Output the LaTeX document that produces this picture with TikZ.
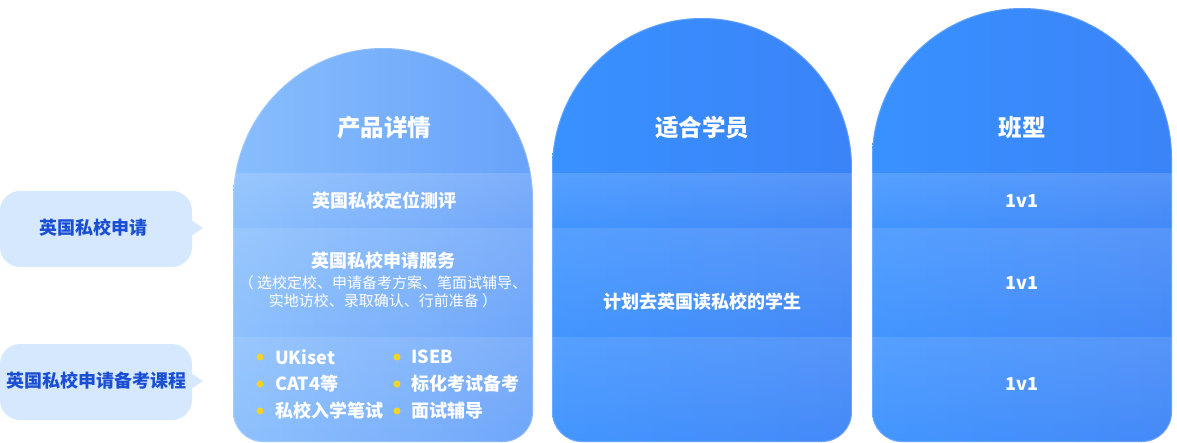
\documentclass[tikz,border=0pt]{standalone}
\usepackage{fontspec}
\setmainfont{Noto Sans CJK SC}
\usetikzlibrary{fadings}
\definecolor{lblbg}{HTML}{D5E8FD}
\definecolor{lbltext}{HTML}{1B4FD3}
\definecolor{dotyellow}{HTML}{F5D32B}
\definecolor{cAl}{HTML}{88BEFD}
\definecolor{cAr}{HTML}{68A2FA}
\definecolor{cBl}{HTML}{3991FF}
\definecolor{cBr}{HTML}{3A83F8}
\tikzfading[name=bandfade, top color=transparent!0, bottom color=transparent!100]
% arch column: #1 = left x, #2 = top y, #3 = y where sides become straight, #4 = command
\newcommand\archpathcmd[4]{#4 (#1,#3) .. controls (#1,{#3-0.5523*(#3-#2)}) and ({#1+67.15},#2) .. ({#1+150},#2) .. controls ({#1+232.85},#2) and ({#1+300},{#3-0.5523*(#3-#2)}) .. ({#1+300},#3) -- ({#1+300},412) .. controls ({#1+300},428.57) and ({#1+286.57},442) .. ({#1+270},442) -- ({#1+30},442) .. controls ({#1+13.43},442) and (#1,428.57) .. (#1,412) -- cycle;}
\newcommand\bandset[1]{%
  \fill[white, fill opacity=0.05] (#1,173) rectangle ({#1+300},443);
  \fill[white, fill opacity=0.10, path fading=bandfade] (#1,173) rectangle ({#1+300},228);
  \fill[white, fill opacity=0.10, path fading=bandfade] (#1,228) rectangle ({#1+300},337);
  \fill[white, fill opacity=0.10, path fading=bandfade] (#1,337) rectangle ({#1+300},443);}
\newcommand\labelbox[3]{% #1 top y, #2 bottom y, #3 pointer y
  \fill[lblbg, rounded corners=20pt] (0,#1) rectangle (192,#2);
  \fill[lblbg] (191,{#3-8}) -- (203,#3) -- (191,{#3+8}) -- cycle;}
\begin{document}
\begin{tikzpicture}[x=1pt,y=-1pt,
  title/.style={text=white,font=\bfseries\fontsize{23.5}{26}\selectfont},
  rowtxt/.style={text=white,font=\bfseries\fontsize{18}{21}\selectfont},
  subtxt/.style={text=white,font=\fontsize{15}{18}\selectfont,align=center},
  lbl/.style={text=lbltext,font=\bfseries\fontsize{18}{21}\selectfont},
  dot/.style={circle,fill=dotyellow,inner sep=0pt,minimum size=7pt},
  bul/.style={text=white,font=\bfseries\fontsize{18}{21}\selectfont,anchor=west,inner sep=0pt},
  rim/.style={draw=white,draw opacity=0.18,line width=2pt}]
\useasboundingbox (0,0) rectangle (1177,443);
\fill[white] (0,0) rectangle (1177,443);

% left labels
\labelbox{191}{267}{228}
\labelbox{344}{420}{381}
\node[lbl] (l1) at (93,228) {英国私校申请};
\node[lbl] (l2) at (96,381) {英国私校申请备考课程};

% columns
\archpathcmd{233}{48}{200}{\shade[left color=cAl,right color=cAr]}
\archpathcmd{552}{18}{168}{\shade[left color=cBl,right color=cBr]}
\archpathcmd{872}{8}{158}{\shade[left color=cBl,right color=cBr]}
\begin{scope}
\archpathcmd{233}{48}{200}{\clip}
\bandset{233}
\archpathcmd{233}{48}{200}{\path[rim]}
\end{scope}
\begin{scope}
\archpathcmd{552}{18}{168}{\clip}
\bandset{552}
\archpathcmd{552}{18}{168}{\path[rim]}
\end{scope}
\begin{scope}
\archpathcmd{872}{8}{158}{\clip}
\bandset{872}
\archpathcmd{872}{8}{158}{\path[rim]}
\end{scope}

% titles
\node[title] (t1) at (384,128) {产品详情};
\node[title] (t2) at (702,128) {适合学员};
\node[title] (t3) at (1022,128) {班型};

% column 1
\node[rowtxt] (a1) at (384,201) {英国私校定位测评};
\node[rowtxt] (a2) at (383,261) {英国私校申请服务};
\node[subtxt] (a3) at (383,292) {（ 选校定校、申请备考方案、笔面试辅导、\\实地访校、录取确认、行前准备 ）};
\node[dot] (d1) at (260,357) {};
\node[dot] (d2) at (260,384) {};
\node[dot] (d3) at (260,411) {};
\node[dot] (d4) at (397,357) {};
\node[dot] (d5) at (397,384) {};
\node[dot] (d6) at (397,411) {};
\node[bul] (b1) at (275,357) {UKiset};
\node[bul] (b2) at (275,384) {CAT4等};
\node[bul] (b3) at (275,411) {私校入学笔试};
\node[bul] (b4) at (411,357) {ISEB};
\node[bul] (b5) at (411,384) {标化考试备考};
\node[bul] (b6) at (411,411) {面试辅导};

% column 2
\node[rowtxt] (s1) at (702,302) {计划去英国读私校的学生};

% column 3
\node[rowtxt] (c1) at (1022,201) {1v1};
\node[rowtxt] (c2) at (1022,283) {1v1};
\node[rowtxt] (c3) at (1022,384) {1v1};
\end{tikzpicture}
\end{document}
